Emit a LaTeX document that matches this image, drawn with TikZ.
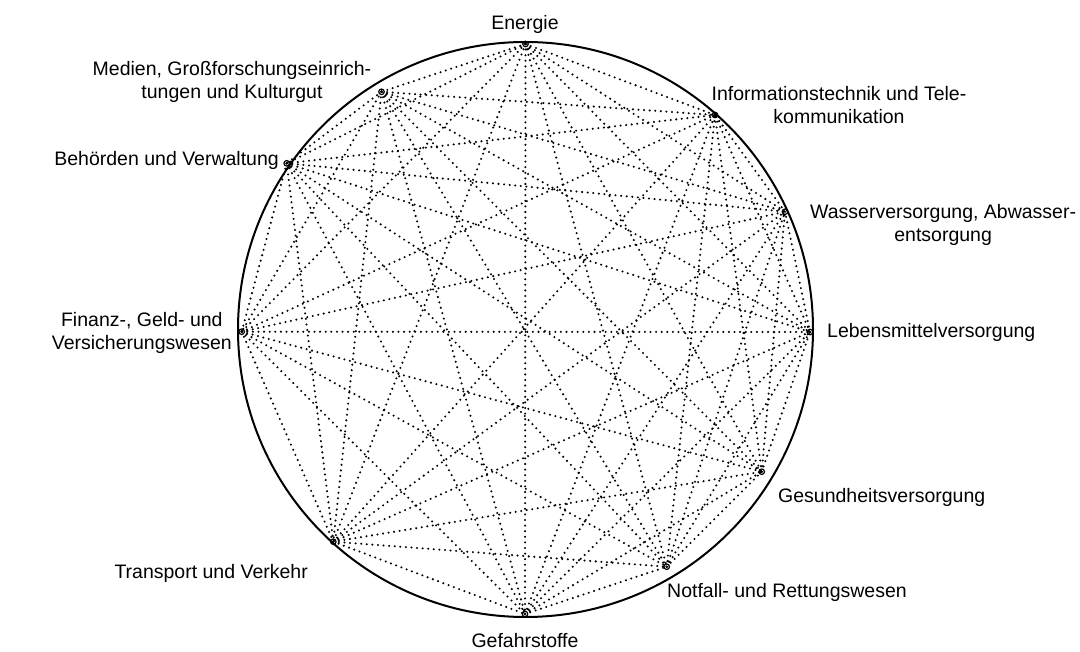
\documentclass[tikz,border=0pt]{standalone}
\usepackage{fontspec}
\setmainfont{Liberation Sans}
\begin{document}
\begin{tikzpicture}[x=1pt,y=-1pt,
  pt/.style={circle,draw,line width=1.2pt,inner sep=0pt,minimum size=5.5pt},
  edge/.style={line width=2.3pt,line cap=round,dash pattern=on 0pt off 5.6pt},
  lbl/.style={font=\fontsize{19.5}{23}\selectfont,align=center,inner sep=0pt}]
\useasboundingbox (0,0) rectangle (1080,652);
\draw[line width=2pt] (525.5,329.5) circle[radius=287.5];
\node[pt] (n1) at (525.5,44) {};
\node[pt] (n2) at (381.5,91.8) {};
\node[pt] (n3) at (286.7,163.3) {};
\node[pt] (n4) at (241.7,331.7) {};
\node[pt] (n5) at (333.3,541.7) {};
\node[pt] (n6) at (525,614) {};
\node[pt] (n7) at (666.7,566.7) {};
\node[pt] (n8) at (761.7,471.7) {};
\node[pt] (n9) at (810,332) {};
\node[pt] (n10) at (785,211.7) {};
\node[pt] (n11) at (715,115) {};
\foreach \i in {1,...,10}{
  \pgfmathtruncatemacro\s{\i+1}
  \foreach \j in {\s,...,11}{
    \draw[edge] (n\i.center) -- (n\j.center);
  }
}
\node[lbl] (l1) at (525,24) {Energie};
\node[lbl] (l2) at (232,82) {Medien, Großforschungseinrich-\\tungen und Kulturgut};
\node[lbl] (l11) at (839,105) {Informationstechnik und Tele-\\kommunikation};
\node[lbl,anchor=east] (l3) at (279,160) {Behörden und Verwaltung};
\node[lbl,anchor=west] (l10) at (810,225) {Wasserversorgung, Abwasser-\\entsorgung};
\node[lbl,anchor=east] (l4) at (232,333) {Finanz-, Geld- und\\Versicherungswesen};
\node[lbl,anchor=west] (l9) at (827,332) {Lebensmittelversorgung};
\node[lbl,anchor=west] (l8) at (778,497) {Gesundheitsversorgung};
\node[lbl,anchor=west] (l7) at (667,592) {Notfall- und Rettungswesen};
\node[lbl] (l6) at (525,641) {Gefahrstoffe};
\node[lbl,anchor=east] (l5) at (308,573) {Transport und Verkehr};
\end{tikzpicture}
\end{document}
